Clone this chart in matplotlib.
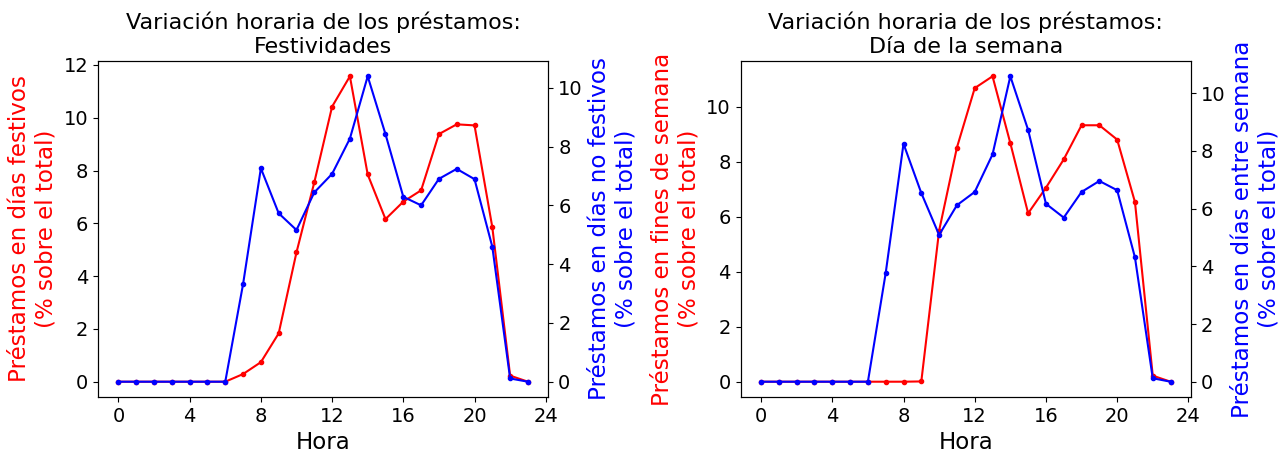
import matplotlib
matplotlib.use('Agg')
from matplotlib import pyplot as plt

horas = list(range(24))

# Festividades
festivos = [0, 0, 0, 0, 0, 0, 0, 0.29, 0.74, 1.83, 4.90, 7.55, 10.42, 11.57,
            7.85, 6.16, 6.82, 7.25, 9.38, 9.75, 9.71, 5.85, 0.23, 0]
no_festivos = [0, 0, 0, 0, 0, 0, 0, 3.32, 7.26, 5.73, 5.16, 6.44, 7.07, 8.27,
               10.39, 8.42, 6.29, 6.0, 6.90, 7.24, 6.89, 4.59, 0.11, 0]

# Dia de la semana
fin_semana = [0, 0, 0, 0, 0, 0, 0, 0, 0, 0.01, 5.49, 8.51, 10.67, 11.10,
              8.67, 6.12, 7.05, 8.08, 9.32, 9.32, 8.80, 6.53, 0.22, 0]
entre_semana = [0, 0, 0, 0, 0, 0, 0, 3.77, 8.25, 6.54, 5.09, 6.12, 6.58, 7.88,
                10.59, 8.73, 6.17, 5.69, 6.58, 6.96, 6.64, 4.31, 0.12, 0]

xticks = [0, 4, 8, 12, 16, 20, 24]

plt.rcParams['font.size'] = 14

fig, (ax1, ax3) = plt.subplots(1, 2, figsize=(12.84, 4.54), dpi=100)

paneles = [
    (ax1, festivos, no_festivos, "Variación horaria de los préstamos:\nFestividades",
     "Préstamos en días festivos\n(% sobre el total)",
     "Préstamos en días no festivos\n(% sobre el total)"),
    (ax3, fin_semana, entre_semana, "Variación horaria de los préstamos:\nDía de la semana",
     "Préstamos en fines de semana\n(% sobre el total)",
     "Préstamos en días entre semana\n(% sobre el total)"),
]

for ax, rojo, azul, titulo, lab_r, lab_b in paneles:
    ax.plot(horas, rojo, color='red', marker='o', markersize=3)
    ax.set_ylabel(lab_r, color='red', fontsize=16.6)
    ax.set_xlabel("Hora", fontsize=16.5)
    ax.set_xticks(xticks)
    ax.set_title(titulo, fontsize=16)
    ax2 = ax.twinx()
    ax2.plot(horas, azul, color='blue', marker='o', markersize=3)
    ax2.set_ylabel(lab_b, color='blue', fontsize=16.6)

plt.subplots_adjust(left=0.0763, right=0.9276, top=0.8656, bottom=0.1256, wspace=0.4267)
plt.savefig('out.png', dpi=100)
